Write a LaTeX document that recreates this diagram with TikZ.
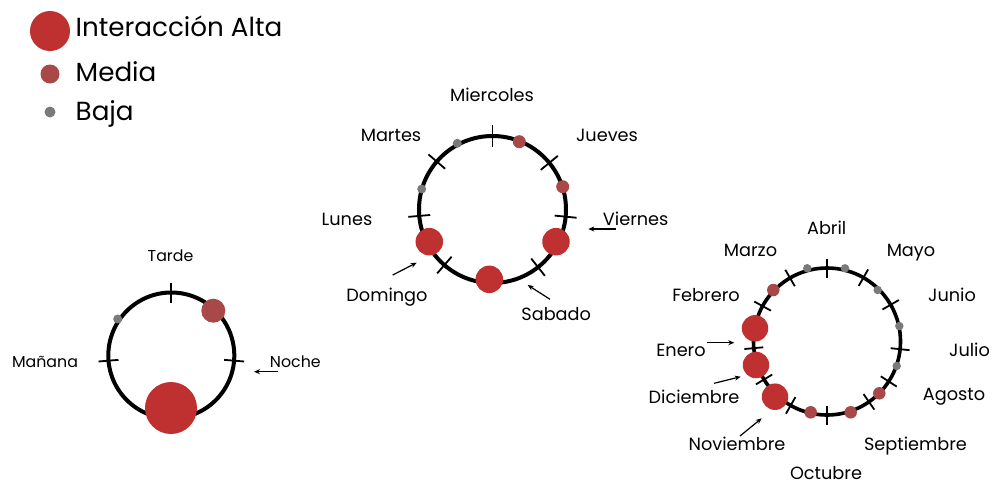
\documentclass[tikz,border=0pt]{standalone}
\usepackage{fontspec}
\setmainfont{Poppins}
\usetikzlibrary{calc,arrows.meta}
\definecolor{alta}{RGB}{191,48,48}
\definecolor{media}{RGB}{168,72,72}
\definecolor{baja}{RGB}{122,122,122}
\begin{document}
\begin{tikzpicture}[x=1pt,y=-1pt,
  ring/.style={circle, draw=black, line width=4pt, inner sep=0pt, outer sep=0pt},
  tickmark/.style={line width=1.8pt, black},
  dot/.style={circle, fill=#1, inner sep=0pt, outer sep=0pt},
  leg/.style={font=\fontsize{26.2}{26.2}\selectfont, inner sep=0pt, anchor=base west},
  lbl/.style={font=\fontsize{17.7}{17.7}\selectfont, inner sep=0pt, anchor=base},
  lblS/.style={font=\fontsize{15.8}{15.8}\selectfont, inner sep=0pt, anchor=base},
  arr/.style={line width=1.2pt, -{Stealth[length=6pt,width=5pt]}}]
\useasboundingbox (0,0) rectangle (994,483);

% legend
\node[dot=alta, minimum size=40pt] (legA) at (50,31) {};
\node[dot=media, minimum size=19pt] (legM) at (50,74) {};
\node[dot=baja, minimum size=11pt] (legB) at (50,112) {};
\node[leg] (legAt) at (75.5,36) {Interacción Alta};
\node[leg] (legMt) at (75.5,81) {Media};
\node[leg] (legBt) at (75.5,120) {Baja};

% circle 1: time of day
\node[ring, minimum size=126pt] (ring1) at (171.3,355.5) {};
\foreach \a in {90,184.7,-4.7}
  \draw[tickmark] ($(ring1.center)+(\a:53pt)$) -- ($(ring1.center)+(\a:73pt)$);
\node[dot=baja, minimum size=9pt] (c1d1) at (117.7,319) {};
\node[dot=media, minimum size=24pt] (c1d2) at (213.3,310.7) {};
\node[dot=alta, minimum size=52pt] (c1d3) at (171,408) {};
\node[lblS] (tarde) at (170.5,261) {Tarde};
\node[lblS] (manana) at (45,367.3) {Mañana};
\node[lblS] (noche) at (295.3,367) {Noche};
\coordinate (nocheA) at (277.7,371.7);
\coordinate (nocheB) at (254,371.7);
\draw[arr] (nocheA) -- (nocheB);

% circle 2: days
\node[ring, minimum size=147pt] (ring2) at (492.5,209.5) {};
\foreach \a in {90,139.3,39.4,185,-5.6,229.1,-51.7}
  \draw[tickmark] ($(ring2.center)+(\a:62.5pt)$) -- ($(ring2.center)+(\a:84.5pt)$);
\node[dot=baja, minimum size=9pt] (c2d1) at (457.3,143.3) {};
\node[dot=media, minimum size=13pt] (c2d2) at (519.3,141.7) {};
\node[dot=baja, minimum size=9pt] (c2d3) at (421.7,189) {};
\node[dot=media, minimum size=13pt] (c2d4) at (562.7,186.7) {};
\node[dot=alta, minimum size=27.5pt] (c2d5) at (429.3,241.7) {};
\node[dot=alta, minimum size=27.5pt] (c2d6) at (556,241.7) {};
\node[dot=alta, minimum size=27.5pt] (c2d7) at (489.3,279.3) {};
\node[lbl] (mie) at (492,101.7) {Miercoles};
\node[lbl] (mar) at (391,141.7) {Martes};
\node[lbl] (jue) at (607,141.7) {Jueves};
\node[lbl] (lun) at (347,225) {Lunes};
\node[lbl] (vie) at (635.7,225) {Viernes};
\node[lbl] (dom) at (387,301.5) {Domingo};
\node[lbl] (sab) at (556.2,320) {Sabado};
\coordinate (vieA) at (615.7,229);
\coordinate (vieB) at (588.3,229);
\coordinate (domA) at (392.7,275);
\coordinate (domB) at (416.7,262.7);
\coordinate (sabA) at (550,299.3);
\coordinate (sabB) at (527.7,285);
\draw[arr] (vieA) -- (vieB);
\draw[arr] (domA) -- (domB);
\draw[arr] (sabA) -- (sabB);

% circle 3: months
\node[ring, line width=3.6pt, minimum size=147pt] (ring3) at (827,341.5) {};
\foreach \a in {90,60.3,30,-6,-32.9,-55.2,-90,-119.6,-148.9,185.2,151.2,120.2}
  \draw[tickmark] ($(ring3.center)+(\a:64pt)$) -- ($(ring3.center)+(\a:83pt)$);
\node[dot=baja, minimum size=8.5pt] (c3d1) at (807.3,268.3) {};
\node[dot=baja, minimum size=8.5pt] (c3d2) at (845,268.3) {};
\node[dot=baja, minimum size=8.5pt] (c3d3) at (877.7,290) {};
\node[dot=baja, minimum size=8.5pt] (c3d4) at (899.3,326) {};
\node[dot=baja, minimum size=8.5pt] (c3d5) at (896.7,366) {};
\node[dot=media, minimum size=12.5pt] (c3d6) at (773.3,290) {};
\node[dot=media, minimum size=12.5pt] (c3d7) at (879.3,393.3) {};
\node[dot=media, minimum size=12.5pt] (c3d8) at (850.7,412.3) {};
\node[dot=media, minimum size=12.5pt] (c3d9) at (810.7,412.3) {};
\node[dot=alta, minimum size=26.5pt] (c3d10) at (755,328.3) {};
\node[dot=alta, minimum size=26.5pt] (c3d11) at (756,365) {};
\node[dot=alta, minimum size=26.5pt] (c3d12) at (775,396.7) {};
\node[lbl] (abr) at (826.7,234.3) {Abril};
\node[lbl] (mzo) at (750.5,256) {Marzo};
\node[lbl] (may) at (911,256) {Mayo};
\node[lbl] (feb) at (706,301) {Febrero};
\node[lbl] (jun) at (952,301) {Junio};
\node[lbl] (ene) at (681,356) {Enero};
\node[lbl] (jul) at (969.5,356) {Julio};
\node[lbl] (dic) at (694,403.3) {Diciembre};
\node[lbl] (ago) at (954,400) {Agosto};
\node[lbl] (nov) at (737,450.7) {Noviembre};
\node[lbl] (sep) at (915.5,450.7) {Septiembre};
\node[lbl, text depth=0pt] (oct) at (826,479) {Octubre};
\coordinate (eneA) at (706.7,342.7);
\coordinate (eneB) at (734.3,342.7);
\coordinate (dicA) at (714,383.3);
\coordinate (dicB) at (740.7,376.7);
\coordinate (novA) at (740,436);
\coordinate (novB) at (761.7,418.3);
\draw[arr] (eneA) -- (eneB);
\draw[arr] (dicA) -- (dicB);
\draw[arr] (novA) -- (novB);
\end{tikzpicture}
\end{document}
